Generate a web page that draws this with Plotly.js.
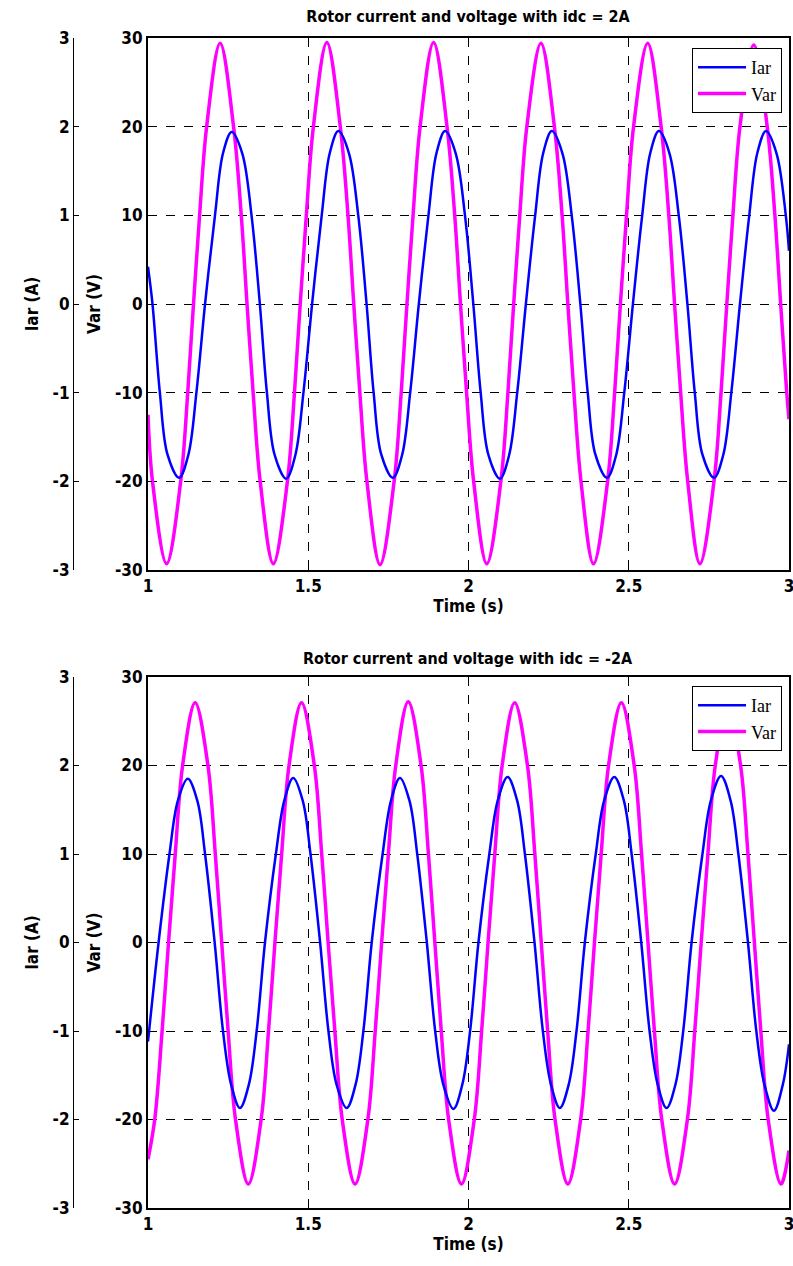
<!DOCTYPE html>
<html>
<head>
<meta charset="utf-8">
<script src="https://cdn.plot.ly/plotly-3.0.1.min.js"></script>
<style>html,body{margin:0;padding:0;background:#fff;}#chart{width:793px;height:1266px;}</style>
</head>
<body>
<div id="chart"></div>
<script>
// ---------- Top panel (idc = 2A) ----------
const tTopIar = [1.000,1.014,1.037,1.061,1.097,1.126,1.151,1.178,1.209,1.234,1.261,1.294,1.323,1.349,1.371,1.395,1.431,1.460,1.485,1.512,1.542,1.567,1.594,1.627,1.656,1.682,1.704,1.728,1.764,1.793,1.818,1.845,1.875,1.900,1.927,1.960,1.989,2.015,2.038,2.062,2.098,2.127,2.152,2.179,2.208,2.233,2.260,2.293,2.322,2.349,2.372,2.396,2.432,2.461,2.486,2.513,2.542,2.567,2.594,2.627,2.656,2.683,2.706,2.730,2.766,2.795,2.820,2.847,2.876,2.901,2.928,2.961,2.990,3.000];
const iarTop  = [0.42,0,-1.0,-1.7,-1.96,-1.7,-1.0,0,1.0,1.7,1.94,1.7,1.0,0,-1.0,-1.7,-1.97,-1.7,-1.0,0,1.0,1.7,1.95,1.7,1.0,0,-1.0,-1.7,-1.96,-1.7,-1.0,0,1.0,1.7,1.95,1.7,1.0,0,-1.0,-1.7,-1.97,-1.7,-1.0,0,1.0,1.7,1.95,1.7,1.0,0,-1.0,-1.7,-1.96,-1.7,-1.0,0,1.0,1.7,1.95,1.7,1.0,0,-1.0,-1.7,-1.96,-1.7,-1.0,0,1.0,1.7,1.95,1.7,1.0,0.6];

const tTopVar = [1.000,1.014,1.058,1.102,1.124,1.142,1.161,1.183,1.225,1.267,1.291,1.309,1.328,1.350,1.391,1.435,1.457,1.475,1.494,1.516,1.558,1.600,1.624,1.642,1.661,1.683,1.724,1.768,1.790,1.808,1.827,1.849,1.891,1.933,1.957,1.975,1.994,2.016,2.057,2.101,2.123,2.141,2.160,2.182,2.226,2.268,2.292,2.310,2.329,2.351,2.390,2.434,2.456,2.474,2.493,2.515,2.559,2.601,2.625,2.643,2.662,2.684,2.722,2.766,2.788,2.806,2.825,2.847,2.890,2.932,2.956,2.974,2.993,3.000];
const varTop  = [-12.5,-20,-29.3,-20,-10,0,10,20,29.4,20,10,0,-10,-20,-29.3,-20,-10,0,10,20,29.5,20,10,0,-10,-20,-29.4,-20,-10,0,10,20,29.5,20,10,0,-10,-20,-29.3,-20,-10,0,10,20,29.4,20,10,0,-10,-20,-29.3,-20,-10,0,10,20,29.4,20,10,0,-10,-20,-29.3,-20,-10,0,10,20,29.2,20,10,0,-10,-13];

// ---------- Bottom panel (idc = -2A) ----------
const tBotIar = [1.000,1.033,1.067,1.093,1.124,1.154,1.178,1.208,1.234,1.259,1.287,1.315,1.339,1.365,1.399,1.425,1.453,1.483,1.507,1.537,1.563,1.588,1.620,1.648,1.672,1.698,1.732,1.758,1.786,1.816,1.840,1.870,1.896,1.921,1.953,1.981,2.005,2.031,2.065,2.091,2.122,2.152,2.176,2.206,2.232,2.257,2.285,2.313,2.337,2.363,2.397,2.423,2.455,2.485,2.509,2.539,2.565,2.590,2.618,2.646,2.670,2.696,2.730,2.756,2.788,2.818,2.842,2.872,2.898,2.923,2.953,2.981,3.000];
const iarBot  = [-1.12,0,1.0,1.6,1.85,1.6,1.0,0,-1.0,-1.6,-1.87,-1.6,-1.0,0,1.0,1.6,1.86,1.6,1.0,0,-1.0,-1.6,-1.87,-1.6,-1.0,0,1.0,1.6,1.86,1.6,1.0,0,-1.0,-1.6,-1.88,-1.6,-1.0,0,1.0,1.6,1.87,1.6,1.0,0,-1.0,-1.6,-1.87,-1.6,-1.0,0,1.0,1.6,1.87,1.6,1.0,0,-1.0,-1.6,-1.87,-1.6,-1.0,0,1.0,1.6,1.88,1.6,1.0,0,-1.0,-1.6,-1.9,-1.6,-1.15];

const tBotVar = [1.000,1.021,1.044,1.064,1.085,1.108,1.147,1.187,1.210,1.230,1.250,1.273,1.313,1.353,1.376,1.396,1.417,1.440,1.479,1.519,1.542,1.562,1.583,1.606,1.646,1.686,1.709,1.729,1.750,1.773,1.812,1.852,1.875,1.895,1.915,1.938,1.978,2.018,2.041,2.061,2.082,2.105,2.144,2.184,2.207,2.227,2.247,2.270,2.310,2.350,2.373,2.393,2.414,2.437,2.477,2.517,2.540,2.560,2.580,2.603,2.643,2.683,2.706,2.726,2.747,2.770,2.809,2.849,2.872,2.892,2.912,2.935,2.975,3.000];
const varBot  = [-24.5,-20,-10,0,10,20,27.1,20,10,0,-10,-20,-27.3,-20,-10,0,10,20,27.1,20,10,0,-10,-20,-27.3,-20,-10,0,10,20,27.2,20,10,0,-10,-20,-27.3,-20,-10,0,10,20,27.1,20,10,0,-10,-20,-27.3,-20,-10,0,10,20,27.1,20,10,0,-10,-20,-27.3,-20,-10,0,10,20,27.0,20,10,0,-10,-20,-27.3,-23.5];

const xTickVals = [1, 1.5, 2, 2.5, 3];
const xTickText = ['1', '1.5', '2', '2.5', '3'];
const iarTicks = [-3, -2, -1, 0, 1, 2, 3];
const iarTickText = ['-3', '-2', '-1', '0', '1', '2', '3'];
const varTicks = [-30, -20, -10, 0, 10, 20, 30];
const varTickText = ['-30', '-20', '-10', '0', '10', '20', '30'];
const titles = ['Rotor current and voltage with idc = 2A', 'Rotor current and voltage with idc = -2A'];

// ---------- styling ----------
const SANS = "'Liberation Sans Narrow', 'DejaVu Sans Condensed', 'Liberation Sans', Arial, sans-serif";
const SERIF = "'Liberation Serif', 'Times New Roman', serif";
const boldFont = (s) => ({family: SANS, size: s, color: '#000', weight: 700});
const BLUE = '#0000ff', MAG = '#ff00ff';
const W = 793, H = 1266;
const xDom = [148 / W, 789 / W];
const yDomTop = [1 - 570 / H, 1 - 38 / H];
const yDomBot = [1 - 1208 / H, 1 - 677 / H];
const iarPos = 73 / W;

function xAxisCfg(anchor) {
  return {
    domain: xDom, anchor: anchor, range: [1, 3],
    tickmode: 'array', tickvals: xTickVals, ticktext: xTickText,
    ticklabeloverflow: 'allow',
    showgrid: true, gridcolor: '#000', gridwidth: 1, griddash: 'dash',
    showline: true, linecolor: '#000', linewidth: 2, mirror: true,
    ticks: 'inside', ticklen: 4, tickcolor: '#000',
    zeroline: false, tickfont: boldFont(17),
    title: {text: 'Time (s)', font: boldFont(17), standoff: 4}
  };
}
function varAxisCfg(anchor, dom) {
  return {
    domain: dom, anchor: anchor, range: [-30, 30],
    tickmode: 'array', tickvals: varTicks, ticktext: varTickText,
    showgrid: true, gridcolor: '#000', gridwidth: 1, griddash: 'dash',
    showline: true, linecolor: '#000', linewidth: 2, mirror: true,
    ticks: 'inside', ticklen: 4, tickcolor: '#000',
    zeroline: false, tickfont: boldFont(17),
    title: {text: 'Var (V)', font: boldFont(17), standoff: 10}
  };
}
function iarAxisCfg(over) {
  return {
    overlaying: over, anchor: 'free', position: iarPos, side: 'left',
    range: [-3, 3], tickmode: 'array', tickvals: iarTicks, ticktext: iarTickText,
    showgrid: false, zeroline: false,
    showline: true, linecolor: '#000', linewidth: 1,
    ticks: 'inside', ticklen: 5, tickcolor: '#000',
    tickfont: boldFont(17),
    title: {text: 'Iar (A)', font: boldFont(17), standoff: 8}
  };
}

const data = [
  {x: tTopIar, y: iarTop, name: 'Iar', xaxis: 'x', yaxis: 'y2', mode: 'lines',
   line: {color: BLUE, width: 2.5, shape: 'spline', smoothing: 1}, legend: 'legend'},
  {x: tTopVar, y: varTop, name: 'Var', xaxis: 'x', yaxis: 'y', mode: 'lines',
   line: {color: MAG, width: 3.5, shape: 'spline', smoothing: 1}, legend: 'legend'},
  {x: tBotIar, y: iarBot, name: 'Iar', xaxis: 'x2', yaxis: 'y4', mode: 'lines',
   line: {color: BLUE, width: 2.5, shape: 'spline', smoothing: 1}, legend: 'legend2'},
  {x: tBotVar, y: varBot, name: 'Var', xaxis: 'x2', yaxis: 'y3', mode: 'lines',
   line: {color: MAG, width: 3.5, shape: 'spline', smoothing: 1}, legend: 'legend2'}
];

const legendCfg = (ytop) => ({
  x: 782 / W, xanchor: 'right', y: ytop, yanchor: 'top',
  bgcolor: '#fff', bordercolor: '#000', borderwidth: 1,
  font: {family: SERIF, size: 18, color: '#000'},
  tracegroupgap: 0, itemwidth: 48
});

const layout = {
  width: W, height: H,
  margin: {l: 0, r: 0, t: 0, b: 0},
  paper_bgcolor: '#fff', plot_bgcolor: '#fff',
  showlegend: true,
  title: {text: titles[0], font: boldFont(16), x: 468 / W, xanchor: 'center',
          y: 1 - 16 / H, yanchor: 'middle', yref: 'container'},
  xaxis: xAxisCfg('y'),
  yaxis: varAxisCfg('x', yDomTop),
  yaxis2: iarAxisCfg('y'),
  xaxis2: xAxisCfg('y3'),
  yaxis3: varAxisCfg('x2', yDomBot),
  yaxis4: iarAxisCfg('y3'),
  legend: legendCfg(1 - 48 / H),
  legend2: legendCfg(1 - 686 / H),
  annotations: [
    {text: titles[1], xref: 'paper', yref: 'paper', x: 468 / W, y: 1 - 658 / H,
     xanchor: 'center', yanchor: 'middle', showarrow: false, font: boldFont(16)}
  ]
};

Plotly.newPlot('chart', data, layout, {displayModeBar: false, staticPlot: true});
</script>
</body>
</html>
